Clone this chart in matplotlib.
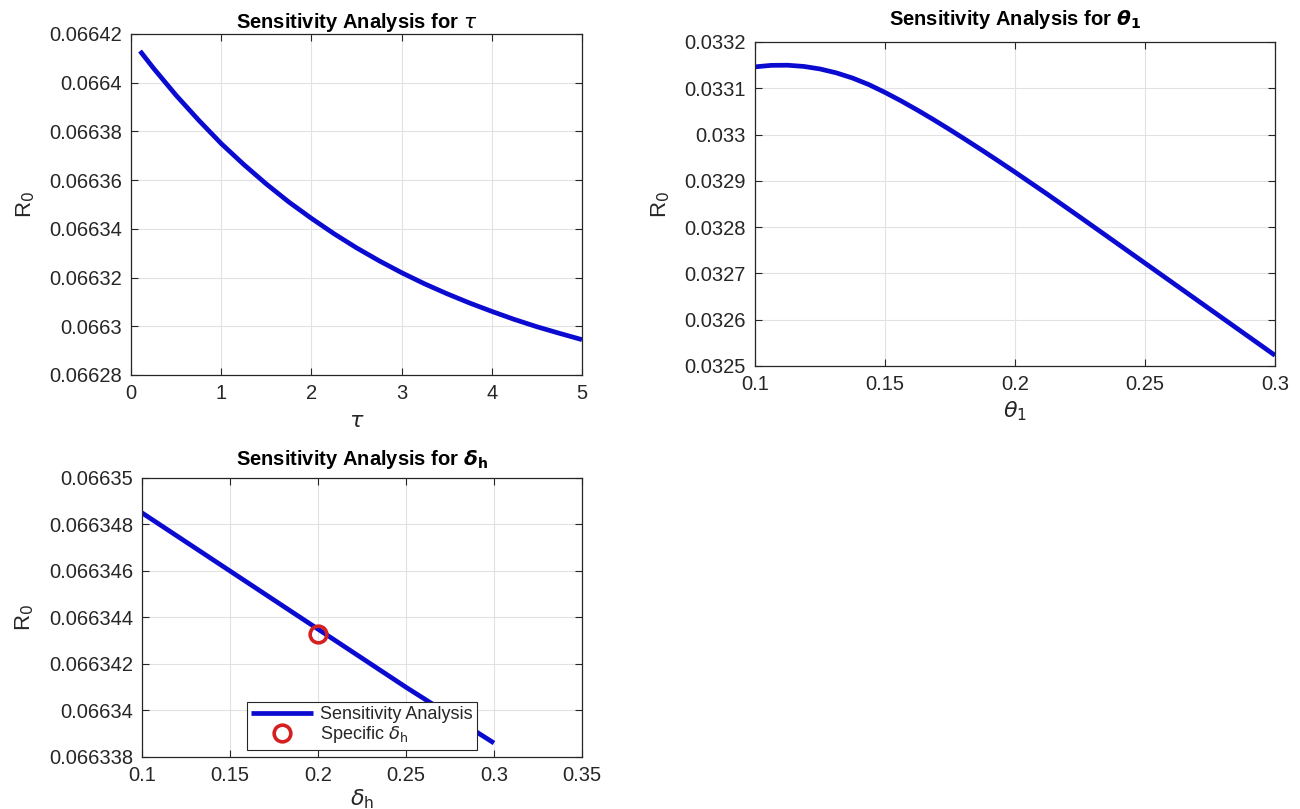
import matplotlib
matplotlib.use("Agg")
import matplotlib.pyplot as plt
from matplotlib.ticker import FuncFormatter

# ---------------- data ----------------
tau_x = [0.1, 0.25, 0.5, 0.75, 1.0, 1.25, 1.5, 1.75, 2.0, 2.25, 2.5,
         2.75, 3.0, 3.25, 3.5, 3.75, 4.0, 4.25, 4.5, 4.75, 5.0]
tau_r0 = [0.0664130, 0.0664059, 0.0663948, 0.0663846, 0.0663750, 0.0663664,
          0.0663584, 0.0663510, 0.0663443, 0.0663380, 0.0663322, 0.0663269,
          0.0663220, 0.0663175, 0.0663134, 0.0663096, 0.0663061, 0.0663028,
          0.0662998, 0.0662971, 0.0662945]

theta_x = [0.1, 0.10625, 0.1125, 0.11875, 0.125, 0.13125, 0.1375, 0.14375,
           0.15, 0.15625, 0.1625, 0.16875, 0.175, 0.18125, 0.1875, 0.19375,
           0.2, 0.2125, 0.225, 0.2375, 0.25, 0.2625, 0.275, 0.2875, 0.3]
theta_r0 = [0.0331463, 0.0331495, 0.0331498, 0.0331472, 0.0331417, 0.0331333,
            0.0331221, 0.0331080, 0.0330910, 0.0330725, 0.0330527, 0.0330319,
            0.0330103, 0.0329881, 0.0329654, 0.0329423, 0.0329188, 0.0328708,
            0.0328216, 0.0327719, 0.0327221, 0.0326723, 0.0326225, 0.0325727,
            0.0325229]

delta_x = [0.1, 0.15, 0.2, 0.25, 0.3]
delta_r0 = [0.0663485, 0.0663460, 0.0663435, 0.0663410, 0.0663386]
delta_spec_x = [0.2]
delta_spec_r0 = [0.0663433]

tau_xticks = [0, 1, 2, 3, 4, 5]
tau_yticks = [0.06628, 0.0663, 0.06632, 0.06634, 0.06636, 0.06638, 0.0664, 0.06642]
theta_xticks = [0.1, 0.15, 0.2, 0.25, 0.3]
theta_yticks = [0.0325, 0.0326, 0.0327, 0.0328, 0.0329, 0.033, 0.0331, 0.0332]
delta_xticks = [0.1, 0.15, 0.2, 0.25, 0.3, 0.35]
delta_yticks = [0.066338, 0.06634, 0.066342, 0.066344, 0.066346, 0.066348, 0.06635]

# ---------------- style ----------------
plt.rcParams['font.family'] = ['Liberation Sans', 'DejaVu Sans']
plt.rcParams['mathtext.fontset'] = 'dejavusans'

LINE_C = '#0a0ad0'
AX_C = '#262626'
fmt = FuncFormatter(lambda v, p: '{:g}'.format(round(v, 10)))

fig = plt.figure(figsize=(13, 8.09), dpi=100)


def style(ax, xticks, yticks):
    ax.set_xticks(xticks)
    ax.set_yticks(yticks)
    ax.set_xlim(xticks[0], xticks[-1])
    ax.set_ylim(yticks[0], yticks[-1])
    ax.xaxis.set_major_formatter(fmt)
    ax.yaxis.set_major_formatter(fmt)
    ax.tick_params(direction='in', top=True, right=True, length=5,
                   width=0.8, color=AX_C, labelcolor=AX_C, labelsize=14.5, pad=6.5)
    for s in ax.spines.values():
        s.set_color(AX_C)
        s.set_linewidth(0.9)
    ax.grid(True, color='#e2e2e2', linewidth=0.8)
    ax.set_axisbelow(True)


# top-left: tau
ax1 = fig.add_axes([0.1008, 0.5365, 0.3469, 0.4215])
ax1.plot(tau_x, tau_r0, color=LINE_C, linewidth=3.4, solid_capstyle='butt')
style(ax1, tau_xticks, tau_yticks)
ax1.set_title(r'Sensitivity Analysis for $\tau$', fontsize=14.5, fontweight='bold', pad=4)
ax1.set_xlabel(r'$\tau$', fontsize=16, color=AX_C, labelpad=6)
ax1.set_ylabel(r'R$_0$', fontsize=16, color=AX_C, labelpad=9)

# top-right: theta_1
ax2 = fig.add_axes([0.5808, 0.5476, 0.4, 0.4005])
ax2.plot(theta_x, theta_r0, color=LINE_C, linewidth=3.4, solid_capstyle='butt')
style(ax2, theta_xticks, theta_yticks)
ax2.set_title(r'Sensitivity Analysis for $\boldsymbol{\theta}_\mathbf{1}$', fontsize=14.5,
              fontweight='bold', pad=12)
ax2.set_xlabel(r'$\theta_\mathrm{1}$', fontsize=16, color=AX_C, labelpad=4)
ax2.set_ylabel(r'R$_0$', fontsize=16, color=AX_C, labelpad=9)

# bottom-left: delta_h
ax3 = fig.add_axes([0.1092, 0.0643, 0.3385, 0.3449])
ax3.plot(delta_x, delta_r0, color=LINE_C, linewidth=3.4, solid_capstyle='butt',
         label='Sensitivity Analysis')
ax3.plot(delta_spec_x, delta_spec_r0, linestyle='none', marker='o', markersize=12,
         markerfacecolor='none', markeredgecolor='#d42020', markeredgewidth=2.6,
         label=r'Specific $\delta_\mathrm{h}$')
style(ax3, delta_xticks, delta_yticks)
ax3.set_title(r'Sensitivity Analysis for $\boldsymbol{\delta}_\mathbf{h}$', fontsize=14.5,
              fontweight='bold', pad=9)
ax3.set_xlabel(r'$\delta_\mathrm{h}$', fontsize=16, color=AX_C, labelpad=2)
ax3.set_ylabel(r'R$_0$', fontsize=16, color=AX_C, labelpad=9)
leg = ax3.legend(loc='lower center', fontsize=13, frameon=True, fancybox=False,
                 framealpha=1.0, borderpad=0.25, labelspacing=0.05, handlelength=3.4,
                 handletextpad=0.4, borderaxespad=0.4, bbox_to_anchor=(0.5, 0.0))
leg.get_frame().set_edgecolor(AX_C)
leg.get_frame().set_linewidth(0.8)
for t in leg.get_texts():
    t.set_color(AX_C)

fig.savefig('out.png', dpi=100, facecolor='white')
